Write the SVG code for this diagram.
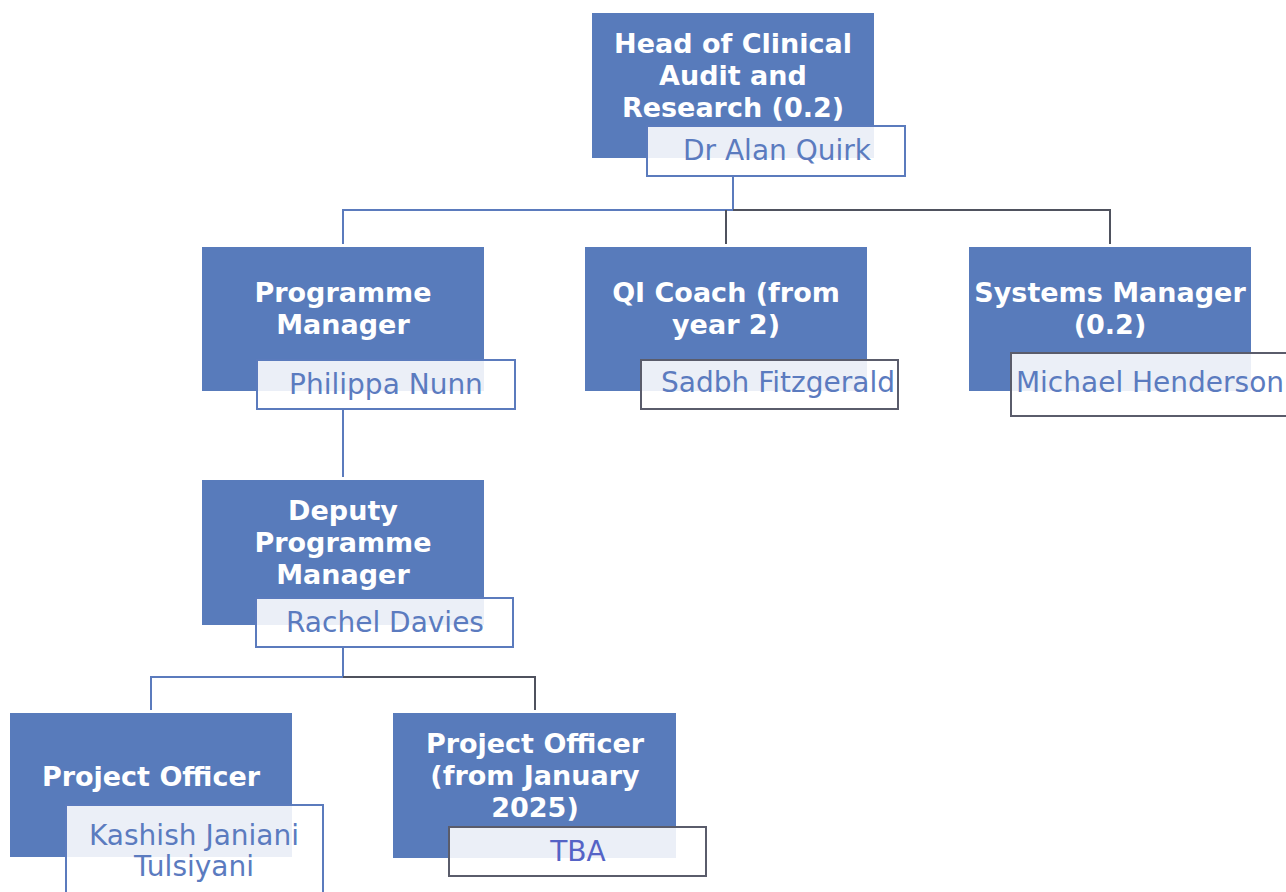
<svg xmlns="http://www.w3.org/2000/svg" width="1286" height="892" viewBox="0 0 1286 892">
<style>
.role{fill:#587bbb}
.title{font-family:"DejaVu Sans","Open Sans",sans-serif;font-weight:700;font-size:27px;fill:#ffffff;text-anchor:middle}
.nb{fill:#ffffff;fill-opacity:0.88;stroke-width:2}
.nbb{stroke:#5b7bbd}
.nbg{stroke:#5a5c6b}
.name{font-family:"DejaVu Sans","Open Sans",sans-serif;font-size:28px;fill:#5b7bbf;text-anchor:middle}
.cb{stroke:#5b7bbd;stroke-width:2;fill:none}
.cg{stroke:#4f525e;stroke-width:2;fill:none}
</style>
<g id="connectors">
<path class="cb" d="M733 176V210H343V244"/>
<path class="cg" d="M733 210H1110V244M726 210V244"/>
<path class="cb" d="M343 409V477"/>
<path class="cb" d="M343 647V677H151V710"/>
<path class="cg" d="M343 677H535V710"/>
</g>
<g id="head">
<rect class="role" x="592" y="13" width="282" height="145"/>
<text class="title" x="733" y="53">Head of Clinical</text>
<text class="title" x="733" y="85">Audit and</text>
<text class="title" x="733" y="117">Research (0.2)</text>
<rect class="nb nbb" x="647" y="126" width="258" height="50"/>
<text class="name" x="777" y="160">Dr Alan Quirk</text>
</g>
<g id="programme-manager">
<rect class="role" x="202" y="247" width="282" height="144"/>
<text class="title" x="343" y="302">Programme</text>
<text class="title" x="343" y="334">Manager</text>
<rect class="nb nbb" x="257" y="360" width="258" height="49"/>
<text class="name" x="386" y="394">Philippa Nunn</text>
</g>
<g id="qi-coach">
<rect class="role" x="585" y="247" width="282" height="144"/>
<text class="title" x="726" y="302">QI Coach (from</text>
<text class="title" x="726" y="334">year 2)</text>
<rect class="nb nbg" x="641" y="360" width="257" height="49"/>
<text class="name" x="778" y="392">Sadbh Fitzgerald</text>
</g>
<g id="systems-manager">
<rect class="role" x="969" y="247" width="282" height="144"/>
<text class="title" x="1110" y="302">Systems Manager</text>
<text class="title" x="1110" y="334">(0.2)</text>
<rect class="nb nbg" x="1011" y="353" width="290" height="63"/>
<text class="name" x="1150" y="392">Michael Henderson</text>
</g>
<g id="deputy-programme-manager">
<rect class="role" x="202" y="480" width="282" height="145"/>
<text class="title" x="343" y="520">Deputy</text>
<text class="title" x="343" y="552">Programme</text>
<text class="title" x="343" y="584">Manager</text>
<rect class="nb nbb" x="256" y="598" width="257" height="49"/>
<text class="name" x="385" y="632">Rachel Davies</text>
</g>
<g id="project-officer">
<rect class="role" x="10" y="713" width="282" height="144"/>
<text class="title" x="151" y="786">Project Officer</text>
<rect class="nb nbb" x="66" y="805" width="257" height="100"/>
<text class="name" x="194" y="845">Kashish Janiani</text>
<text class="name" x="194" y="876">Tulsiyani</text>
</g>
<g id="project-officer-2025">
<rect class="role" x="393" y="713" width="283" height="145"/>
<text class="title" x="535" y="753">Project Officer</text>
<text class="title" x="535" y="785">(from January</text>
<text class="title" x="535" y="817">2025)</text>
<rect class="nb nbg" x="449" y="827" width="257" height="49"/>
<text class="name" x="578" y="861" style="fill:#5563c6">TBA</text>
</g>
</svg>
